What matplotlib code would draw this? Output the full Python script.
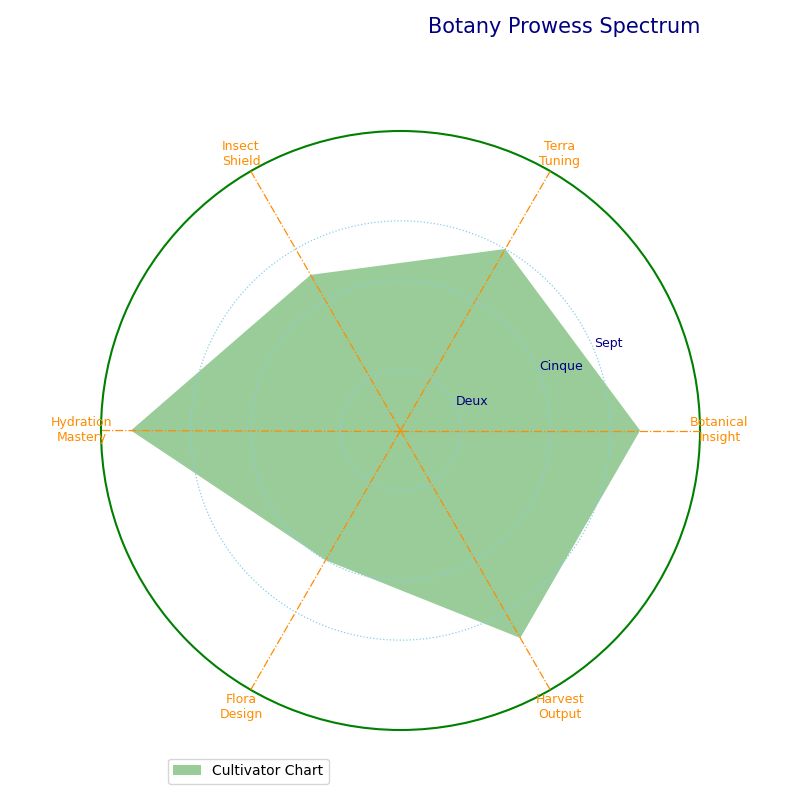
import numpy as np
import matplotlib
matplotlib.use("Agg")
import matplotlib.pyplot as plt

categories = ["Botanical\nInsight", "Terra\nTuning", "Insect\nShield",
              "Hydration\nMastery", "Flora\nDesign", "Harvest\nOutput"]
values = [8, 7, 6, 9, 5, 8]
rgrid_values = [2, 5, 7]
rgrid_labels = ["Deux", "Cinque", "Sept"]
series_name = "Cultivator Chart"
title = "Botany Prowess Spectrum"

fig = plt.figure(figsize=(8, 8), dpi=100)
ax = fig.add_axes([101/800, 70/800, 599/800, 599/800], projection="polar")

n = len(categories)
angles = np.linspace(0, 2*np.pi, n, endpoint=False)
theta = np.concatenate([angles, angles[:1]])
r = values + values[:1]

ax.fill(theta, r, color="green", alpha=0.4, linewidth=0, label=series_name, zorder=0.5)
ax.set_axisbelow(False)

ax.set_ylim(0, 10)
ax.set_rgrids(rgrid_values, labels=rgrid_labels, angle=22.5,
              color="navy", fontsize=9)
ax.set_xticks(angles)
ax.set_xticklabels(categories, color="darkorange", fontsize=9)
ax.xaxis.grid(True, color="darkorange", linestyle="-.", linewidth=0.9)
ax.yaxis.grid(True, color="skyblue", linestyle=":", linewidth=0.9)
ax.spines["polar"].set_color("green")
ax.spines["polar"].set_linewidth(1.5)

ax.set_title(title, loc="right", color="navy", fontsize=15, y=1.15)
ax.legend(loc="upper left", bbox_to_anchor=(0.1, -0.036), fontsize=10)

fig.savefig("out.png", dpi=100)
